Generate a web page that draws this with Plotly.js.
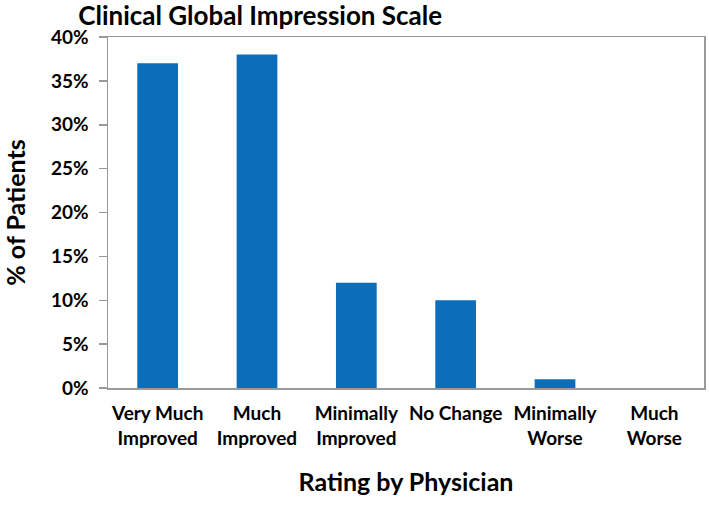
<!DOCTYPE html>
<html>
<head>
<meta charset="utf-8">
<script src="https://cdn.plot.ly/plotly-3.0.1.min.js"></script>
<style>
  html, body { margin: 0; padding: 0; background: #fff; }
  #chart { width: 709px; height: 505px; }
</style>
</head>
<body>
<div id="chart"></div>
<script>
var categories = ['Very Much<br>Improved', 'Much<br>Improved', 'Minimally<br>Improved', 'No Change', 'Minimally<br>Worse', 'Much<br>Worse'];
var percentPatients = [37, 38, 12, 10, 1, 0];
var yTicks = [0, 5, 10, 15, 20, 25, 30, 35, 40];
var yTickLabels = ['0%', '5%', '10%', '15%', '20%', '25%', '30%', '35%', '40%'];

var font = 'Lato, "Open Sans", sans-serif';

var data = [{
  type: 'bar',
  x: categories,
  y: percentPatients,
  marker: { color: '#0B6EBA' },
  width: 0.41,
  hoverinfo: 'x+y'
}];

var layout = {
  width: 709,
  height: 505,
  margin: { l: 108, r: 5, t: 37, b: 117, autoexpand: false },
  paper_bgcolor: '#fff',
  plot_bgcolor: '#fff',
  showlegend: false,
  font: { family: font, color: '#000', size: 19 },
  title: {
    text: '<b>Clinical Global Impression Scale</b>',
    font: { family: font, size: 26, color: '#000' },
    x: 0.367, xanchor: 'center',
    y: 0.968, yanchor: 'middle'
  },
  xaxis: {
    showline: true, linecolor: '#9a9a9a', linewidth: 1.5,
    mirror: true,
    ticks: '', showgrid: false,
    ticklabelstandoff: 8,
    tickfont: { family: font, size: 19, color: '#000', weight: 'bold' },
    title: {
      text: '<b>Rating by Physician</b>',
      font: { family: font, size: 25, color: '#000' },
      standoff: 25
    }
  },
  yaxis: {
    range: [0, 40],
    tickvals: yTicks,
    ticktext: yTickLabels,
    showline: true, linecolor: '#9a9a9a', linewidth: 1.5,
    mirror: true,
    ticks: 'outside', ticklen: 8, tickcolor: '#9a9a9a', tickwidth: 1.5,
    ticklabelstandoff: 6,
    showgrid: false, zeroline: false,
    tickfont: { family: font, size: 19, color: '#000', weight: 'bold' },
    title: {
      text: '<b>% of Patients</b>',
      font: { family: font, size: 25, color: '#000' },
      standoff: 22
    }
  }
};

Plotly.newPlot('chart', data, layout, { displayModeBar: false, staticPlot: true });
</script>
</body>
</html>
